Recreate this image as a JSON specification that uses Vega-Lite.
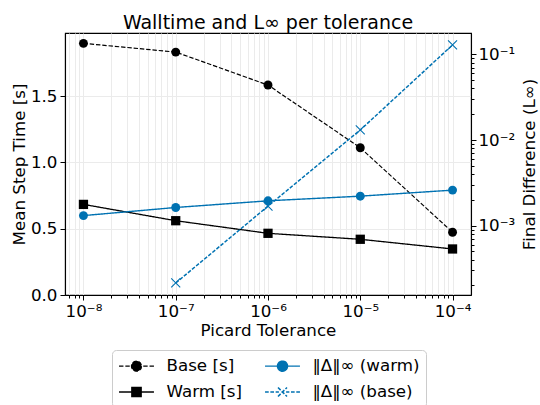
{
  "$schema": "https://vega.github.io/schema/vega-lite/v6.json",
  "width": 406,
  "height": 262,
  "autosize": {"type": "none"},
  "padding": {"left": 65, "top": 33, "right": 69, "bottom": 110},
  "background": "white",
  "title": {"text": "Walltime and L∞ per tolerance", "fontSize": 19, "font": "DejaVu Sans", "fontWeight": "normal", "color": "black", "offset": 0},
  "config": {
    "view": {"stroke": "black", "strokeWidth": 1.1},
    "axis": {"domainColor": "black", "domainWidth": 1.1, "tickColor": "black", "tickWidth": 1, "labelColor": "black", "titleColor": "black", "labelFont": "DejaVu Sans", "titleFont": "DejaVu Sans", "labelFontSize": 16.7, "titleFontSize": 16.7, "titleFontWeight": "normal", "gridColor": "#ebebeb", "gridWidth": 1, "labelOverlap": false, "labelBound": false}
  },
  "datasets": {
    "time": [
      {"tol": 1e-8, "series": "Base [s]", "value": 1.897},
      {"tol": 1e-7, "series": "Base [s]", "value": 1.831},
      {"tol": 1e-6, "series": "Base [s]", "value": 1.583},
      {"tol": 1e-5, "series": "Base [s]", "value": 1.110},
      {"tol": 1e-4, "series": "Base [s]", "value": 0.473},
      {"tol": 1e-8, "series": "Warm [s]", "value": 0.683},
      {"tol": 1e-7, "series": "Warm [s]", "value": 0.560},
      {"tol": 1e-6, "series": "Warm [s]", "value": 0.465},
      {"tol": 1e-5, "series": "Warm [s]", "value": 0.420},
      {"tol": 1e-4, "series": "Warm [s]", "value": 0.347}
    ],
    "diff": [
      {"tol": 1e-8, "series": "‖Δ‖∞ (warm)", "value": 0.00131},
      {"tol": 1e-7, "series": "‖Δ‖∞ (warm)", "value": 0.00163},
      {"tol": 1e-6, "series": "‖Δ‖∞ (warm)", "value": 0.00195},
      {"tol": 1e-5, "series": "‖Δ‖∞ (warm)", "value": 0.00221},
      {"tol": 1e-4, "series": "‖Δ‖∞ (warm)", "value": 0.00260},
      {"tol": 1e-7, "series": "‖Δ‖∞ (base)", "value": 0.000214},
      {"tol": 1e-6, "series": "‖Δ‖∞ (base)", "value": 0.00169},
      {"tol": 1e-5, "series": "‖Δ‖∞ (base)", "value": 0.0131},
      {"tol": 1e-4, "series": "‖Δ‖∞ (base)", "value": 0.129}
    ]
  },
  "encoding": {
    "x": {
      "field": "tol", "type": "quantitative",
      "scale": {"type": "log", "domain": [6.31e-9, 1.585e-4], "nice": false},
      "axis": {
        "values": [7e-9, 8e-9, 9e-9, 1e-8, 2e-8, 3e-8, 4e-8, 5e-8, 6e-8, 7e-8, 8e-8, 9e-8, 1e-7, 2e-7, 3e-7, 4e-7, 5e-7, 6e-7, 7e-7, 8e-7, 9e-7, 1e-6, 2e-6, 3e-6, 4e-6, 5e-6, 6e-6, 7e-6, 8e-6, 9e-6, 1e-5, 2e-5, 3e-5, 4e-5, 5e-5, 6e-5, 7e-5, 8e-5, 9e-5, 1e-4],
        "grid": true,
        "labelExpr": "abs(log(datum.value)/LN10 - round(log(datum.value)/LN10)) < 0.001 ? '10⁻' + ['⁰','¹','²','³','⁴','⁵','⁶','⁷','⁸','⁹'][-round(log(datum.value)/LN10)] : ''",
        "tickSize": {"condition": {"test": "abs(log(datum.value)/LN10 - round(log(datum.value)/LN10)) < 0.001", "value": 5}, "value": 3},
        "labelPadding": 3,
        "title": "Picard Tolerance",
        "titlePadding": 3
      }
    },
    "color": {
      "field": "series", "type": "nominal",
      "scale": {"domain": ["Base [s]", "Warm [s]", "‖Δ‖∞ (warm)", "‖Δ‖∞ (base)"], "range": ["black", "black", "#0072B2", "#0072B2"]},
      "legend": {
        "orient": "none", "legendX": 47, "legendY": 317, "columns": 2, "title": null,
        "padding": 6, "strokeColor": "#cccccc", "fillColor": "white", "cornerRadius": 4,
        "symbolSize": 324, "symbolStrokeWidth": 1.2, "symbolOffset": 8.5, "labelOffset": 20,
        "columnPadding": 19, "rowPadding": 7,
        "labelFont": "DejaVu Sans", "labelFontSize": 16.7, "labelColor": "black", "labelLimit": 0,
        "symbolOpacity": 1,
        "symbolDash": [1, 0],
        "symbolType": {"expr": "datum.value === 'Base [s]' ? 'M-1.94,0H-1.45M-1.24,0H-0.75M0.75,0H1.24M1.45,0H1.94M0.56,0A0.56,0.56,0,1,1,-0.56,0A0.56,0.56,0,1,1,0.56,0Z' : datum.value === 'Warm [s]' ? 'M-1.94,0H1.94M-0.52,-0.52H0.52V0.52H-0.52Z' : datum.value === '‖Δ‖∞ (warm)' ? 'M-1.94,0H1.94M0.56,0A0.56,0.56,0,1,1,-0.56,0A0.56,0.56,0,1,1,0.56,0Z' : 'M-1.94,0H-1.53M-1.35,0H-0.94M-0.76,0H-0.4M0.4,0H0.76M0.94,0H1.35M1.53,0H1.94M-0.5,-0.5L0.5,0.5M-0.5,0.5L0.5,-0.5'"},
        "symbolFillColor": {"expr": "indexOf(datum.value, '[s]') >= 0 ? 'black' : '#0072B2'"},
        "symbolStrokeColor": {"expr": "indexOf(datum.value, '[s]') >= 0 ? 'black' : '#0072B2'"}
      }
    }
  },
  "layer": [
    {
      "data": {"name": "time"},
      "encoding": {
        "y": {
          "field": "value", "type": "quantitative",
          "scale": {"domain": [0, 1.975], "nice": false, "zero": false},
          "axis": {"orient": "left", "values": [0, 0.5, 1, 1.5], "format": ".1f", "grid": true, "tickSize": 5, "labelPadding": 3, "title": "Mean Step Time [s]", "titlePadding": 2}
        }
      },
      "layer": [
        {
          "mark": {"type": "line"},
          "encoding": {
            "strokeDash": {"field": "series", "type": "nominal", "scale": {"domain": ["Base [s]", "Warm [s]", "‖Δ‖∞ (warm)", "‖Δ‖∞ (base)"], "range": [[4.4, 1.9], [1, 0], [1, 0], [3.7, 1.6]]}, "legend": null},
            "strokeWidth": {"field": "series", "type": "nominal", "scale": {"domain": ["Base [s]", "Warm [s]", "‖Δ‖∞ (warm)", "‖Δ‖∞ (base)"], "range": [1.2, 1.5, 1.3, 1.0]}, "legend": null}
          }
        },
        {
          "transform": [{"filter": "datum.series === 'Base [s]'"}],
          "mark": {"type": "point", "shape": "circle", "filled": true, "size": 80, "opacity": 1}
        },
        {
          "transform": [{"filter": "datum.series === 'Warm [s]'"}],
          "mark": {"type": "point", "shape": "square", "filled": true, "size": 86, "opacity": 1}
        }
      ]
    },
    {
      "data": {"name": "diff"},
      "encoding": {
        "y": {
          "field": "value", "type": "quantitative",
          "scale": {"type": "log", "domain": [0.0001549, 0.1778], "nice": false},
          "axis": {
            "orient": "right",
            "values": [0.0002, 0.0003, 0.0004, 0.0005, 0.0006, 0.0007, 0.0008, 0.0009, 0.001, 0.002, 0.003, 0.004, 0.005, 0.006, 0.007, 0.008, 0.009, 0.01, 0.02, 0.03, 0.04, 0.05, 0.06, 0.07, 0.08, 0.09, 0.1],
            "grid": false,
            "labelExpr": "abs(log(datum.value)/LN10 - round(log(datum.value)/LN10)) < 0.001 ? '10⁻' + ['⁰','¹','²','³','⁴','⁵','⁶','⁷','⁸','⁹'][-round(log(datum.value)/LN10)] : ''",
            "tickSize": {"condition": {"test": "abs(log(datum.value)/LN10 - round(log(datum.value)/LN10)) < 0.001", "value": 5}, "value": 3},
            "labelPadding": 2,
            "title": "Final Difference (L∞)",
            "titleAngle": 270,
            "titlePadding": 24
          }
        }
      },
      "layer": [
        {
          "mark": {"type": "line"},
          "encoding": {
            "strokeDash": {"field": "series", "type": "nominal", "scale": {"domain": ["Base [s]", "Warm [s]", "‖Δ‖∞ (warm)", "‖Δ‖∞ (base)"], "range": [[4.4, 1.9], [1, 0], [1, 0], [3.7, 1.6]]}, "legend": null},
            "strokeWidth": {"field": "series", "type": "nominal", "scale": {"domain": ["Base [s]", "Warm [s]", "‖Δ‖∞ (warm)", "‖Δ‖∞ (base)"], "range": [1.2, 1.5, 1.3, 1.0]}, "legend": null}
          }
        },
        {
          "transform": [{"filter": "datum.series === '‖Δ‖∞ (warm)'"}],
          "mark": {"type": "point", "shape": "circle", "filled": true, "size": 80, "opacity": 1}
        },
        {
          "transform": [{"filter": "datum.series === '‖Δ‖∞ (base)'"}],
          "mark": {"type": "point", "shape": "M-1,-1L1,1M-1,1L1,-1", "filled": false, "size": 81, "strokeWidth": 1.1, "opacity": 1}
        }
      ]
    }
  ],
  "resolve": {"scale": {"y": "independent"}, "axis": {"y": "independent"}}
}
